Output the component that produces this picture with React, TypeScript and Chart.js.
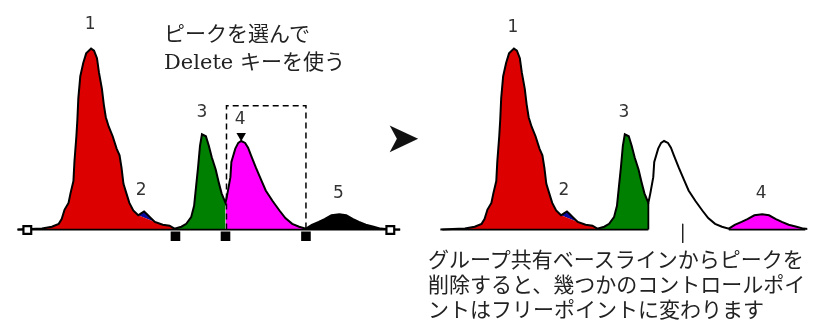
import React, { useEffect, useRef } from "react";
import { Chart, registerables } from "chart.js";

Chart.register(...registerables);

// Retention time (min) and detector signal of the chromatogram
const times = [
  0, 1.25, 1.75, 2.1, 2.25, 2.4, 2.6, 2.7, 2.85, 2.9, 3.0, 3.05, 3.1, 3.2, 3.35, 3.5, 3.75, 3.9, 4.05, 4.15,
  4.3, 4.4, 4.5, 4.65, 4.85, 5.05, 5.2, 5.3, 5.4, 5.55, 5.7, 5.9, 6.15, 6.3, 6.45, 6.6, 6.75, 7.0, 7.4, 7.75,
  8.0, 8.35, 8.6, 8.85, 9.0, 9.1, 9.2, 9.3, 9.4, 9.6, 9.75, 9.9, 10.1, 10.25, 10.4, 10.6,
  10.7, 10.85, 10.9, 11.1, 11.25, 11.4, 11.6, 11.75, 11.9, 12.15, 12.4, 12.65, 13.0, 13.35, 13.65, 14.0, 14.35, 14.7,
  15.0, 15.35, 15.65, 16.0, 16.4, 16.75, 17.1, 17.4, 17.75, 18.15, 18.5, 19.0, 19.5,
];
const signal = [
  0, 0.5, 1.5, 3, 5.5, 10.5, 14, 19, 25.5, 35.5, 49, 57.5, 69, 80.5, 87.5, 92.5, 95, 94, 90, 82.5,
  74, 65.5, 59, 54, 49, 42.5, 39, 32.5, 24, 19, 14, 10, 7.5, 8.5, 9.5, 8, 6.5, 4, 2.5, 2,
  0.5, 1.5, 3, 6.5, 12.5, 22.5, 32.5, 44, 50, 49, 44, 38, 31.5, 25, 19, 14,
  19, 27.5, 35.5, 42.5, 45.5, 46.5, 45.5, 43, 39, 32.5, 26.5, 20.5, 15, 10, 6, 3, 1.5, 0.5,
  2.5, 4, 5.5, 7.5, 8, 7.5, 5.5, 4, 2.5, 1.5, 0.5, 0, 0,
];

// Peak integration ranges (min)
const peak1Range = [1.25, 8.0];
const peak2Range = [6.15, 7.0];
const peak3Range = [8.0, 10.6];
const peak4Range = [10.6, 14.7];
const peak5Range = [14.7, 19.0];
const rightPeak4Range = [14.7, 18.5];

// Control points and end points of the baseline (min)
const controlPointTimes = [8.05, 10.6, 14.7];
const endPointTimes = [0.5, 19.0];
const leftBaselineRange = [0, 19.5];
const rightBaselineRanges = [[0.1, 10.6], [14.7, 18.6]];

// Selected peak (4) marker and selection box
const selectedApexTime = 11.4;
const selectedMarkerValue = 49.25;
const selectionBoxTimes = [10.65, 14.7];
const selectionBoxTop = 65;
const freePointTime = 12.35;
const freePointRange = [3, -7];
const dropLineTime = 10.6;

// Peak labels
const leftLabels = ["1", "2", "3", "4", "5"];
const leftLabelTimes = [3.7, 6.3, 9.4, 11.35, 16.35];
const leftLabelValues = [107.5, 20.5, 61.5, 58, 19];
const rightLabels = ["1", "2", "3", "4"];
const rightLabelTimes = [3.7, 6.3, 9.35, 16.35];
const rightLabelValues = [106, 20.5, 61.5, 19];

const RED = "#dd0000";
const BLUE = "#0a0aa0";
const GREEN = "#008000";
const MAGENTA = "#ff00ff";
const BLACK = "#000000";

const points = times.map((t, i) => ({ x: t, y: signal[i] }));
const slice = (r: number[]) => points.filter((p) => p.x >= r[0] - 1e-9 && p.x <= r[1] + 1e-9);
const valueAt = (t: number) => signal[times.indexOf(t)];

function buildDatasets() {
  const ds: any[] = [];
  const add = (d: any) => {
    ds.push({ pointRadius: 0, tension: 0, yAxisID: "y", ...d });
    return ds.length - 1;
  };
  const fillArea = (axis: string, data: any[], color: string, fill: any) =>
    add({ xAxisID: axis, data, backgroundColor: color, borderColor: "transparent", borderWidth: 0, fill, order: 20 });

  for (const axis of ["xL", "xR"]) {
    // peak 1 with skim line under peak 2
    const redPts = [
      ...slice([peak1Range[0], peak2Range[0]]),
      ...slice([peak2Range[1], peak1Range[1]]),
    ];
    const redIdx = fillArea(axis, redPts, RED, "origin");
    fillArea(axis, slice(peak2Range), BLUE, redIdx);
    fillArea(axis, slice(peak3Range), GREEN, "origin");
    if (axis === "xL") {
      fillArea(axis, slice(peak4Range), MAGENTA, "origin");
      fillArea(axis, slice(peak5Range), BLACK, "origin");
    } else {
      fillArea(axis, slice(rightPeak4Range), MAGENTA, "origin");
    }
  }

  // baselines
  add({
    xAxisID: "xL",
    data: leftBaselineRange.map((t) => ({ x: t, y: 0 })),
    borderColor: BLACK, borderWidth: 1.8, fill: false, order: 5,
  });
  for (const r of rightBaselineRanges) {
    add({
      xAxisID: "xR",
      data: r.map((t) => ({ x: t, y: 0 })),
      borderColor: BLACK, borderWidth: 1.8, fill: false, order: 5,
    });
  }
  // traces
  add({ xAxisID: "xL", data: points, borderColor: BLACK, borderWidth: 2, fill: false, order: 2 });
  add({ xAxisID: "xR", data: points, borderColor: BLACK, borderWidth: 2, fill: false, order: 2 });
  // drop line at the end of peak 3 (right)
  add({
    xAxisID: "xR",
    data: [{ x: dropLineTime, y: valueAt(dropLineTime) }, { x: dropLineTime, y: 0 }],
    borderColor: BLACK, borderWidth: 1.8, fill: false, order: 2,
  });
  // free point tick (right)
  add({
    xAxisID: "xR",
    data: freePointRange.map((v) => ({ x: freePointTime, y: v })),
    borderColor: "#222", borderWidth: 1, fill: false, order: 2,
  });
  // selection box (left)
  add({
    xAxisID: "xL",
    data: [
      { x: selectionBoxTimes[0], y: 0 },
      { x: selectionBoxTimes[0], y: selectionBoxTop },
      { x: selectionBoxTimes[1], y: selectionBoxTop },
      { x: selectionBoxTimes[1], y: 0 },
    ],
    borderColor: BLACK, borderWidth: 1.5, borderDash: [6, 4], fill: false, order: 1,
  });
  // control points
  add({
    xAxisID: "xL",
    data: controlPointTimes.map((t) => ({ x: t, y: -3.5 })),
    showLine: false, pointStyle: "rect", pointRadius: 6.8,
    pointBackgroundColor: BLACK, pointBorderColor: BLACK, pointBorderWidth: 0, order: 0,
  });
  // baseline end points
  add({
    xAxisID: "xL",
    data: endPointTimes.map((t) => ({ x: t, y: -0.25 })),
    showLine: false, pointStyle: "rect", pointRadius: 5.5,
    pointBackgroundColor: "#ffffff", pointBorderColor: BLACK, pointBorderWidth: 2.2, order: 0,
  });
  // selected peak marker
  add({
    xAxisID: "xL",
    data: [{ x: selectedApexTime, y: selectedMarkerValue }],
    showLine: false, pointStyle: "triangle", pointRotation: 180, pointRadius: 5.5,
    pointBackgroundColor: BLACK, pointBorderColor: BLACK, pointBorderWidth: 0, order: 0,
  });
  return ds;
}

const labelPlugin = {
  id: "peakLabels",
  afterDatasetsDraw(chart: any) {
    const ctx = chart.ctx;
    const y = chart.scales.y;
    ctx.save();
    ctx.font = '17px "DejaVu Sans", sans-serif';
    ctx.fillStyle = "#333";
    ctx.textAlign = "center";
    ctx.textBaseline = "middle";
    leftLabels.forEach((s, i) => {
      ctx.fillText(s, chart.scales.xL.getPixelForValue(leftLabelTimes[i]), y.getPixelForValue(leftLabelValues[i]));
    });
    rightLabels.forEach((s, i) => {
      ctx.fillText(s, chart.scales.xR.getPixelForValue(rightLabelTimes[i]), y.getPixelForValue(rightLabelValues[i]));
    });
    ctx.restore();
  },
};

export default function App() {
  const ref = useRef<HTMLCanvasElement | null>(null);
  useEffect(() => {
    if (!ref.current) return;
    const chart = new Chart(ref.current, {
      type: "line",
      data: { datasets: buildDatasets() },
      options: {
        animation: false,
        responsive: false,
        devicePixelRatio: 1,
        layout: { padding: 0 },
        plugins: { legend: { display: false }, tooltip: { enabled: false } },
        events: [],
        scales: {
          xL: { type: "linear", axis: "x", display: false, min: -0.5, max: 40.25 },
          xR: { type: "linear", axis: "x", display: false, min: -22.05, max: 18.7 },
          y: { type: "linear", display: false, min: -44.5, max: 116.5 },
        },
      } as any,
      plugins: [labelPlugin],
    });
    return () => chart.destroy();
  }, []);

  const textFont = '"DejaVu Serif", "Noto Sans CJK JP", serif';
  return (
    <div style={{ position: "fixed", left: 0, top: 0, width: 815, height: 322, background: "#fff", overflow: "hidden" }}>
      <canvas ref={ref} width={815} height={322} style={{ position: "absolute", left: 0, top: 0, width: 815, height: 322 }} />
      <div style={{ position: "absolute", left: 164, top: 20, fontFamily: textFont, fontSize: 21, lineHeight: "28px", color: "#222", whiteSpace: "nowrap" }}>
        ピークを選んで
        <br />
        Delete キーを使う
      </div>
      <div style={{ position: "absolute", left: 385, top: 116, fontFamily: '"DejaVu Sans", sans-serif', fontSize: 42, lineHeight: "44px", color: "#111" }}>
        ➤
      </div>
      <div style={{ position: "absolute", left: 428, top: 248, fontFamily: textFont, fontSize: 21, lineHeight: "25px", color: "#222", whiteSpace: "nowrap" }}>
        グループ共有ベースラインからピークを
        <br />
        削除すると、幾つかのコントロールポイ
        <br />
        ントはフリーポイントに変わります
      </div>
    </div>
  );
}
